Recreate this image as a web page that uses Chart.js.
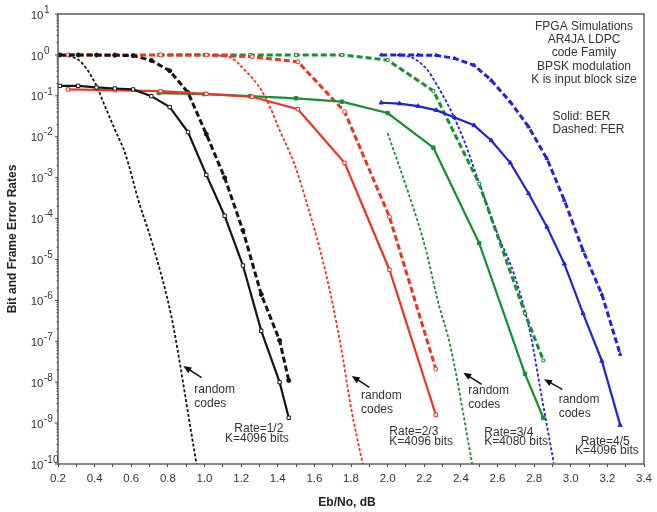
<!DOCTYPE html>
<html><head><meta charset="utf-8">
<script src="https://cdn.jsdelivr.net/npm/chart.js@4.4.1/dist/chart.umd.min.js"></script>
<style>html,body{margin:0;padding:0;background:#fff}#wrap{width:657px;height:512px;position:relative}</style>
</head><body><div id="wrap"><canvas id="c" width="657" height="512"></canvas></div>
<script>
// ---------- axis settings ----------
const xMin = 0.2, xMax = 3.4;
const yMinExp = -10, yMaxExp = 1;
const xTitle = 'Eb/No, dB';
const yTitle = 'Bit and Frame Error Rates';

// ---------- Rate 1/2, K=4096 (black) ----------
const r12X    = [0.21,0.31,0.41,0.51,0.61,0.71,0.81,0.91,1.01,1.11,1.21,1.31,1.41,1.46];
const r12BER  = [0.175,0.175,0.16,0.151,0.143,0.098,0.053,0.013,1.17e-3,1.17e-4,7.1e-6,1.8e-7,1.0e-8,1.35e-9];
const r12FER  = [1.0,1.0,0.99,0.98,0.96,0.73,0.41,0.12,0.0115,1.0e-3,5.1e-5,1.4e-6,1.05e-7,1.1e-8];
const r12RandX = [0.2,0.313,0.404,0.458,0.512,0.567,0.639,0.721,0.82,0.866,0.911,0.956];
const r12Rand  = [1.0,0.746,0.2,0.0537,0.0145,3.9e-3,2.8e-4,2.0e-5,3.9e-7,2.8e-8,1.66e-9,1e-10];

// ---------- Rate 2/3, K=4096 (red) ----------
const r23X    = [0.255,0.51,0.76,1.01,1.26,1.51,1.765,2.01,2.263];
const r23BER  = [0.143,0.137,0.13,0.112,0.095,0.047,2.3e-3,5.6e-6,1.6e-9];
const r23FER  = [1.0,1.0,1.0,1.0,0.9,0.68,0.041,1.1e-4,2.1e-8];
const r23RandX = [1.05,1.15,1.22,1.31,1.365,1.41,1.49,1.565,1.637,1.70,1.755,1.80,1.864];
const r23Rand  = [1.0,0.822,0.427,0.138,0.0447,0.0145,2.2e-3,1.9e-4,1.35e-5,8.1e-7,4.0e-8,2.4e-9,1e-10];

// ---------- Rate 3/4, K=4080 (green) ----------
const r34X    = [0.75,1.0,1.25,1.5,1.75,2.0,2.25,2.5,2.75,2.85];
const r34BER  = [0.117,0.11,0.098,0.087,0.072,0.038,5.4e-3,2.5e-5,1.6e-8,1.35e-9];
const r34FER  = [1.0,1.0,1.0,1.0,1.0,0.746,0.132,7.1e-4,4.8e-7,3.4e-8];
const r34RandX = [2.0,2.115,2.208,2.272,2.344,2.462];
const r34Rand  = [0.0123,4.0e-4,1.8e-5,1.05e-6,7.1e-8,1e-10];

// ---------- Rate 4/5, K=4096 (blue) ----------
const r45X    = [1.965,2.065,2.165,2.265,2.366,2.472,2.566,2.67,2.77,2.87,2.965,3.067,3.17,3.27];
const r45BER  = [0.0676,0.0646,0.0562,0.0447,0.0295,0.019,8.1e-3,2.3e-3,4.1e-4,6.2e-5,7.8e-6,4.8e-7,3.3e-8,8.9e-10];
const r45FER  = [1.0,1.0,0.99,0.98,0.82,0.56,0.24,0.071,0.0174,2.9e-3,2.8e-4,1.66e-5,1.4e-6,4.8e-8];
const r45RandX = [2.05,2.14,2.218,2.254,2.344,2.417,2.49,2.6,2.69,2.78,2.835,2.907];
const r45Rand  = [1.0,0.83,0.427,0.24,0.0447,8.1e-3,1e-3,4.2e-5,4.4e-6,1.5e-7,6.3e-9,1.07e-10];

// ---------- texts ----------
const infoLines = ['FPGA Simulations','AR4JA LDPC','code Family','BPSK modulation','K is input block size'];
const styleLines = ['Solid: BER','Dashed: FER'];
const rateLabels = [['Rate=1/2','K=4096 bits'],['Rate=2/3','K=4096 bits'],['Rate=3/4','K=4080 bits'],['Rate=4/5','K=4096 bits']];
const randomLabel = ['random','codes'];

// ---------- styling ----------
const C = {black:'#151515', red:'#ee3322', green:'#149030', blue:'#2222dd'};
const FONT = '"Liberation Sans", Arial, Helvetica, sans-serif';
const TXT = '#333333';

function pts(xs, ys){ return xs.map((x,i)=>({x:x, y:ys[i]})); }
function ber(xs, ys, col, style, fill){
  return {data:pts(xs,ys), showLine:true, borderColor:col, borderWidth:2.2, tension:0,
    pointStyle:style, pointRadius:2.4, pointBackgroundColor:fill, pointBorderColor:col, pointBorderWidth:1, order:1};
}
function fer(xs, ys, col, style, fill){
  return {data:pts(xs,ys), showLine:true, borderColor:col, borderWidth:3, borderDash:[6,3], tension:0,
    pointStyle:style, pointRadius:2, pointBackgroundColor:fill, pointBorderColor:col, pointBorderWidth:1, order:2};
}
function rnd(xs, ys, col){
  return {data:pts(xs,ys), showLine:true, borderColor:col, borderWidth:1.8, borderDash:[3,2],
    cubicInterpolationMode:'monotone', pointRadius:0, order:3};
}

const datasets = [
  rnd(r12RandX, r12Rand, C.black),
  rnd(r23RandX, r23Rand, C.red),
  rnd(r34RandX, r34Rand, C.green),
  rnd(r45RandX, r45Rand, C.blue),
  fer(r12X, r12FER, C.black, 'circle', C.black),
  fer(r23X, r23FER, C.red, 'circle', '#fff'),
  fer(r34X, r34FER, C.green, 'rect', '#fff'),
  fer(r45X, r45FER, C.blue, 'triangle', C.blue),
  ber(r12X, r12BER, C.black, 'rect', '#fff'),
  ber(r23X, r23BER, C.red, 'rect', '#fff'),
  ber(r34X, r34BER, C.green, 'rect', C.green),
  ber(r45X, r45BER, C.blue, 'triangle', C.blue)
];

function arrow(ctx, x1, y1, x2, y2){
  const a = Math.atan2(y2-y1, x2-x1), L = 8, W = 3.4;
  ctx.beginPath(); ctx.moveTo(x1,y1); ctx.lineTo(x2 - Math.cos(a)*5, y2 - Math.sin(a)*5); ctx.stroke();
  ctx.beginPath();
  ctx.moveTo(x2,y2);
  ctx.lineTo(x2 - L*Math.cos(a) + W*Math.sin(a), y2 - L*Math.sin(a) - W*Math.cos(a));
  ctx.lineTo(x2 - L*Math.cos(a) - W*Math.sin(a), y2 - L*Math.sin(a) + W*Math.cos(a));
  ctx.closePath(); ctx.fill();
}

const decor = {
  id:'decor',
  afterDraw(chart){
    const ctx = chart.ctx, a = chart.chartArea, ys = chart.scales.y;
    ctx.save();
    // frame
    ctx.strokeStyle = '#555'; ctx.lineWidth = 1.4;
    ctx.strokeRect(a.left, a.top, a.right - a.left, a.bottom - a.top);
    // y ticks + labels
    ctx.strokeStyle = '#444'; ctx.lineWidth = 1;
    for (let e = yMinExp; e <= yMaxExp; e++){
      const py = ys.getPixelForValue(Math.pow(10,e));
      ctx.beginPath(); ctx.moveTo(a.left-3, py); ctx.lineTo(a.left, py); ctx.stroke();
      if (e < yMaxExp){
        for (let m = 2; m <= 9; m++){
          const pm = ys.getPixelForValue(m*Math.pow(10,e));
          ctx.beginPath(); ctx.moveTo(a.left-1.5, pm); ctx.lineTo(a.left, pm); ctx.stroke();
        }
      }
      ctx.fillStyle = TXT; ctx.textBaseline = 'middle';
      ctx.font = '11.5px ' + FONT; ctx.textAlign = 'right';
      ctx.fillText('10', a.left - 14.5, py + 1.5);
      ctx.font = '10px ' + FONT; ctx.textAlign = 'left';
      ctx.fillText(String(e), a.left - 14, py - 4);
    }
    // axis titles
    ctx.fillStyle = '#222'; ctx.font = 'bold 12px ' + FONT; ctx.textAlign = 'center'; ctx.textBaseline = 'middle';
    ctx.fillText(xTitle, 347, 503);
    ctx.save(); ctx.translate(12.5, (a.top + a.bottom)/2); ctx.rotate(-Math.PI/2);
    ctx.fillText(yTitle, 0, 0); ctx.restore();
    // info text
    ctx.fillStyle = TXT; ctx.font = '12px ' + FONT; ctx.textAlign = 'center';
    infoLines.forEach((t,i)=>ctx.fillText(t, 584, 26.7 + i*13.2));
    ctx.textAlign = 'left';
    styleLines.forEach((t,i)=>ctx.fillText(t, 552.5, 116.5 + i*13));
    // random codes labels + arrows
    const rl = [[194.3,390,201.7,377.7,183.3,366],[361,396,369.3,387.3,351.7,376],
                [468.3,391,481.7,384.3,463.3,372.7],[558.7,400,562.3,389.3,544,379.3]];
    ctx.strokeStyle = '#111'; ctx.fillStyle = '#111'; ctx.lineWidth = 1.5;
    rl.forEach(r=>arrow(ctx, r[2], r[3], r[4], r[5]));
    ctx.fillStyle = TXT;
    rl.forEach(r=>{ ctx.fillText(randomLabel[0], r[0], r[1]); ctx.fillText(randomLabel[1], r[0], r[1]+13.3); });
    // rate labels
    const rp = [[234.3,428.5,225,439],[389.3,431.7,389.3,441.3],[484.3,432.3,484.3,441.5],[580.7,441.7,575,451]];
    rateLabels.forEach((l,i)=>{ const p = rp[i]; ctx.fillText(l[0], p[0], p[1]); ctx.fillText(l[1], p[2], p[3]); });
    ctx.restore();
  }
};

new Chart(document.getElementById('c'), {
  type:'scatter',
  data:{datasets:datasets},
  options:{
    responsive:false, animation:false, devicePixelRatio:1,
    layout:{padding:{top:14, right:10, left:0, bottom:0}},
    plugins:{legend:{display:false}, tooltip:{enabled:false}},
    scales:{
      x:{type:'linear', min:xMin, max:xMax,
         grid:{display:true, drawOnChartArea:false, drawTicks:true, tickLength:3, color:'#444'},
         border:{display:false},
         ticks:{stepSize:0.1, autoSkip:false, maxRotation:0, padding:5, color:TXT,
                font:{family:FONT, size:11.5},
                callback:(v)=> (Math.round(v*10) % 2 === 0 ? v.toFixed(1) : '')},
         afterFit:(s)=>{ s.height = 48; }},
      y:{type:'logarithmic', min:Math.pow(10,yMinExp), max:Math.pow(10,yMaxExp),
         grid:{display:false}, border:{display:false},
         ticks:{display:false},
         afterFit:(s)=>{ s.width = 58; }}
    }
  },
  plugins:[decor]
});
</script></body></html>
